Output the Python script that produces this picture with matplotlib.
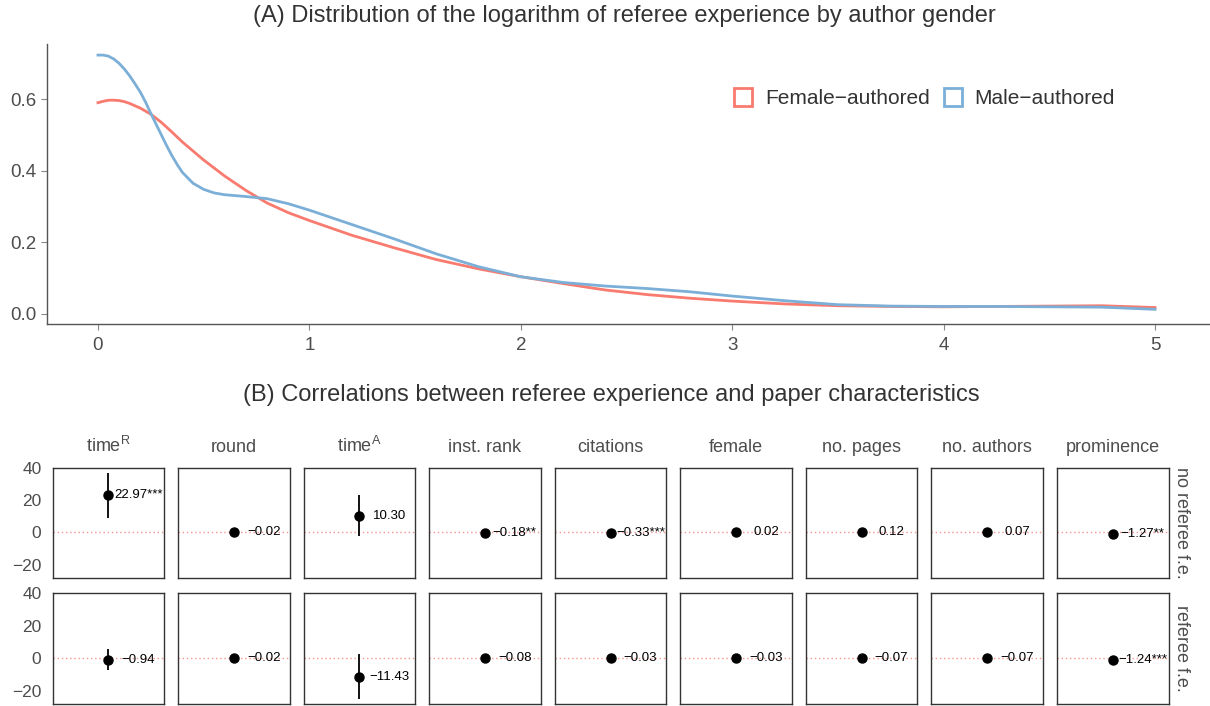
import matplotlib
matplotlib.use("Agg")
import matplotlib.pyplot as plt
from matplotlib.lines import Line2D

plt.rcParams['font.family'] = ['Liberation Sans', 'DejaVu Sans']

# Panel A: density of log referee experience
x_female = [0, 0.025, 0.05, 0.075, 0.1, 0.125, 0.15, 0.2, 0.25, 0.3, 0.35, 0.4, 0.45,
            0.5, 0.6, 0.7, 0.8, 0.9, 1.0, 1.2, 1.4, 1.6, 1.8, 2.0, 2.2, 2.4, 2.6,
            2.8, 3.0, 3.25, 3.5, 3.75, 4.0, 4.25, 4.5, 4.75, 5.0]
y_female = [0.590, 0.594, 0.597, 0.597, 0.596, 0.593, 0.588, 0.575, 0.558, 0.535,
            0.508, 0.480, 0.455, 0.430, 0.385, 0.345, 0.310, 0.283, 0.261, 0.220,
            0.185, 0.152, 0.126, 0.104, 0.085, 0.067, 0.054, 0.044, 0.036, 0.028,
            0.023, 0.021, 0.020, 0.021, 0.022, 0.023, 0.018]
x_male = [0, 0.025, 0.05, 0.075, 0.1, 0.125, 0.15, 0.175, 0.2, 0.225, 0.25, 0.275,
          0.3, 0.325, 0.35, 0.375, 0.4, 0.45, 0.5, 0.55, 0.6, 0.7, 0.8, 0.9, 1.0,
          1.2, 1.4, 1.6, 1.8, 2.0, 2.2, 2.4, 2.6, 2.8, 3.0, 3.25, 3.5, 3.75, 4.0,
          4.25, 4.5, 4.75, 5.0]
y_male = [0.723, 0.723, 0.720, 0.712, 0.700, 0.684, 0.665, 0.643, 0.620, 0.592,
          0.560, 0.530, 0.500, 0.470, 0.442, 0.417, 0.395, 0.365, 0.348, 0.338,
          0.333, 0.328, 0.322, 0.308, 0.290, 0.250, 0.210, 0.168, 0.132, 0.104,
          0.088, 0.078, 0.071, 0.062, 0.050, 0.037, 0.026, 0.022, 0.021, 0.021,
          0.020, 0.019, 0.013]

# Panel B: correlations
variables = ["$\\mathregular{time^R}$", "round", "$\\mathregular{time^A}$", "inst. rank",
             "citations", "female", "no. pages", "no. authors", "prominence"]
rows = ["no referee f.e.", "referee f.e."]
est_no_fe = [22.97, -0.02, 10.30, -0.18, -0.33, 0.02, 0.12, 0.07, -1.27]
ci_no_fe = [14.0, 0.3, 12.8, 0.2, 0.2, 0.3, 0.3, 0.3, 0.9]
stars_no_fe = ["***", "", "", "**", "***", "", "", "", "**"]
est_fe = [-0.94, -0.02, -11.43, -0.08, -0.03, -0.03, -0.07, -0.07, -1.24]
ci_fe = [6.5, 0.3, 13.8, 0.2, 0.2, 0.2, 0.2, 0.2, 0.7]
stars_fe = ["", "", "", "", "", "", "", "", "***"]

RED = "#F97A6E"
BLUE = "#7BAFD8"
GREY = "#4D4D4D"
W, H = 1210, 706

fig = plt.figure(figsize=(W / 100, H / 100), dpi=100)


def px_axes(left, top, width, height):
    return fig.add_axes([left / W, 1 - (top + height) / H, width / W, height / H])


# ---- Panel A
ax = px_axes(47, 44, 1163, 280)
ax.plot(x_female, y_female, color=RED, lw=2)
ax.plot(x_male, y_male, color=BLUE, lw=2)
ax.set_xlim(-0.241, 5.26)
ax.set_ylim(-0.028, 0.754)
ax.set_xticks([0, 1, 2, 3, 4, 5])
ax.set_yticks([0.0, 0.2, 0.4, 0.6])
ax.set_yticklabels(["0.0", "0.2", "0.4", "0.6"])
for s in ["top", "right"]:
    ax.spines[s].set_visible(False)
for s in ["left", "bottom"]:
    ax.spines[s].set_color("#555555")
    ax.spines[s].set_linewidth(1.0)
ax.tick_params(colors="#888888", labelcolor=GREY, labelsize=13.5, length=4, width=0.8)
ax.tick_params(axis='x', pad=5)
handles = [Line2D([], [], marker='s', ls='none', markersize=13, markerfacecolor='none',
                  markeredgecolor=c, markeredgewidth=2) for c in (RED, BLUE)]
leg = fig.legend(handles, ["Female\u2212authored", "Male\u2212authored"], ncol=2,
                 loc='center left', bbox_to_anchor=(712 / W, 1 - 99 / H), frameon=False,
                 fontsize=15, handletextpad=0.45, columnspacing=0.5, handlelength=1.2)
for t in leg.get_texts():
    t.set_color("#333333")
fig.text(624 / W, 1 - 16 / H,
         "(A) Distribution of the logarithm of referee experience by author gender",
         ha='center', va='center', fontsize=17, color="#333333")

# ---- Panel B
fig.text(611 / W, 1 - 395 / H,
         "(B) Correlations between referee experience and paper characteristics",
         ha='center', va='center', fontsize=17, color="#333333")

all_lo = [e - c for e, c in zip(est_no_fe + est_fe, ci_no_fe + ci_fe)]
all_hi = [e + c for e, c in zip(est_no_fe + est_fe, ci_no_fe + ci_fe)]
lo, hi = min(all_lo), max(all_hi)
pad = 0.05 * (hi - lo)

row_data = [(est_no_fe, ci_no_fe, stars_no_fe), (est_fe, ci_fe, stars_fe)]
row_tops = [467.5, 593.3]
col_step = (1057 - 52.5) / 8
for r, (est, ci, stars) in enumerate(row_data):
    for c, name in enumerate(variables):
        a = px_axes(52.5 + c * col_step, row_tops[r], 111.5, 110.7)
        a.axhline(0, color=RED, lw=1, ls=(0, (1, 2)), alpha=0.8, zorder=1)
        a.errorbar([0], [est[c]], yerr=[ci[c]], fmt='o', color='black', ms=6.5,
                   elinewidth=1.3, capsize=0, zorder=3)
        lab = f"{est[c]:.2f}".replace('-', '\u2212') + stars[c]
        a.text(0.535, est[c], lab, ha='center', va='center', fontsize=9.5, color='black')
        a.set_xlim(-1, 1)
        a.set_ylim(lo - pad, hi + pad)
        a.set_xticks([])
        a.set_yticks([-20, 0, 20, 40])
        a.tick_params(axis='y', length=0, pad=8, labelcolor=GREY, labelsize=12.5)
        if c > 0:
            a.set_yticklabels([])
        else:
            a.set_yticklabels(["\u221220", "0", "20", "40"])
        for s in a.spines.values():
            s.set_color("#333333")
            s.set_linewidth(1.0)
        if r == 0:
            a.set_title(name, fontsize=13, color=GREY, pad=11)
        if c == len(variables) - 1:
            a.text(1.12, 0.5, rows[r], rotation=270, transform=a.transAxes,
                   ha='center', va='center', fontsize=13, color=GREY)

fig.savefig("out.png", dpi=100)
